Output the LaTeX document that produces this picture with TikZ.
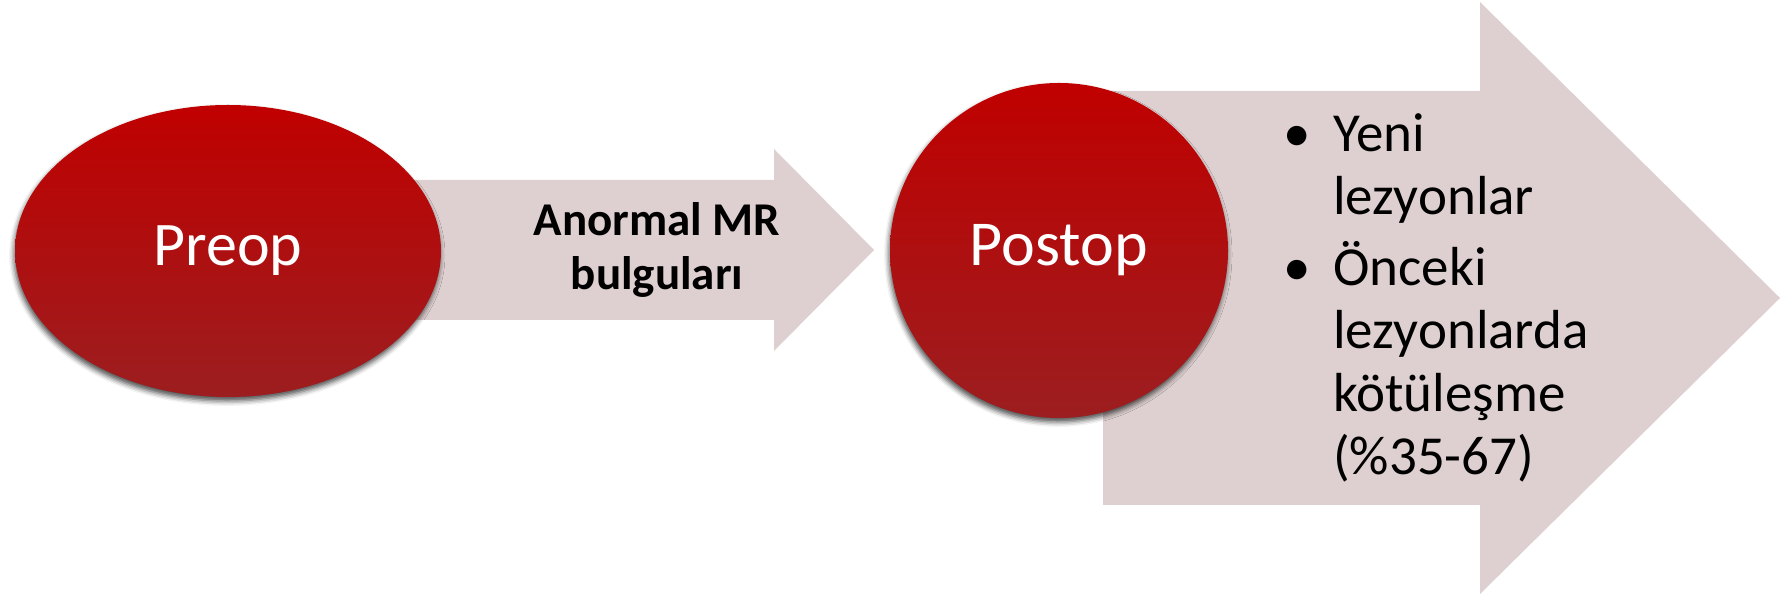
\documentclass[tikz,border=0pt]{standalone}
\usepackage{fontspec}
\setmainfont{Carlito}
\usetikzlibrary{shapes.geometric,shadows.blur}
\definecolor{okpembe}{RGB}{222,208,208}
\definecolor{ustkirmizi}{RGB}{192,0,0}
\definecolor{altkirmizi}{RGB}{156,30,32}
\tikzset{
  kirmizi/.style={ellipse, inner sep=0pt, top color=ustkirmizi, bottom color=altkirmizi,
    blur shadow={shadow xshift=-1pt, shadow yshift=-4pt, shadow blur radius=5pt, shadow opacity=70},
    text=white, font=\fontsize{62}{74}\selectfont},
  okyazi/.style={inner sep=0pt, align=center, font=\bfseries\fontsize{47}{54}\selectfont},
  maddeyazi/.style={inner sep=0pt, align=left, font=\fontsize{55}{63}\selectfont}
}

\begin{document}
\begin{tikzpicture}[x=1pt,y=1pt]
	\useasboundingbox (0,0) rectangle (1787,596);

	% oklar
	\fill[okpembe] (400,416) -- (774,416) -- (774,447) -- (874,346) -- (774,245) -- (774,276) -- (400,276) -- cycle;
	\fill[okpembe] (1103,505) -- (1480,505) -- (1480,594) -- (1780,298) -- (1480,2) -- (1480,91) -- (1103,91) -- cycle;

	% daireler
	\node[kirmizi, minimum width=426pt, minimum height=292pt] (preop) at (228,345) {Preop};
	\node[kirmizi, minimum width=338pt, minimum height=335pt, font=\fontsize{64}{76}\selectfont] (postop) at (1059,345.5) {Postop};

	% yazilar
	\node[okyazi] (bulgu) at (657,346) {Anormal MR\\bulguları};

	% son satirin tabani
	\node[maddeyazi, anchor=base] (nokta1) at (1297,444) {\textbullet};
	\node[maddeyazi, anchor=base west] (madde1) at (1333,381) {Yeni\\lezyonlar};
	\node[maddeyazi, anchor=base] (nokta2) at (1297,310) {\textbullet};
	\node[maddeyazi, anchor=base west] (madde2) at (1333,121) {Önceki\\lezyonlarda\\kötüleşme\\(\%35-67)};
\end{tikzpicture}
\end{document}
